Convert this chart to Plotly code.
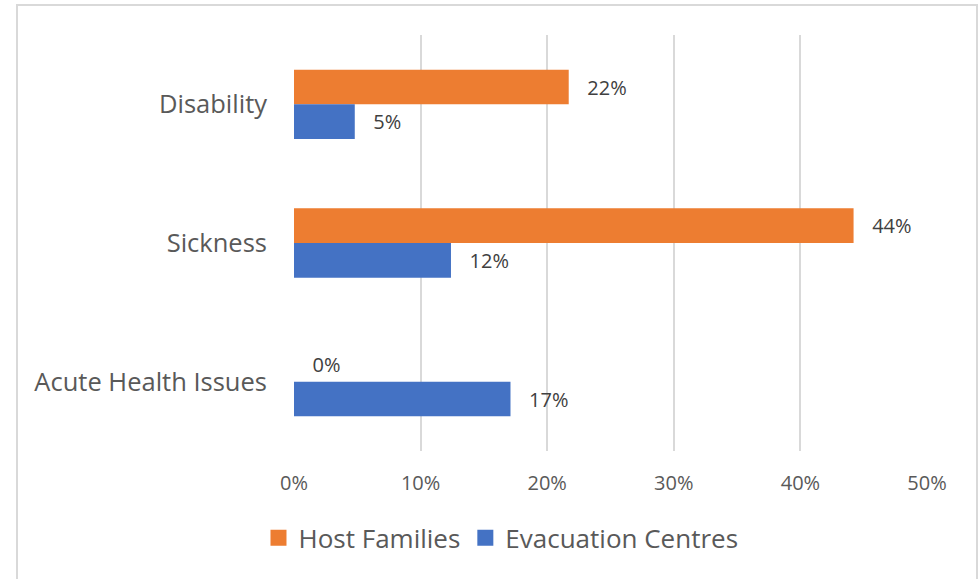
import plotly.graph_objects as go

# Health issues reported, by type of shelter
categories = ["Disability", "Sickness", "Acute Health Issues"]
host_families = [0.217, 0.442, 0.0]
evacuation_centres = [0.048, 0.124, 0.171]
tick_values = [0, 0.1, 0.2, 0.3, 0.4, 0.5]
tick_labels = ["0%", "10%", "20%", "30%", "40%", "50%"]

ORANGE = "#ED7D31"
BLUE = "#4472C4"
TEXT = "#595959"
LABEL = "#404040"
GRID = "#D9D9D9"
FONT = "Open Sans"
PAD = "\u00a0\u00a0\u00a0"  # gap between bar end and its value label

fig = go.Figure()
for name, values, color in [("Host Families", host_families, ORANGE),
                            ("Evacuation Centres", evacuation_centres, BLUE)]:
    fig.add_trace(go.Bar(
        name=name, y=categories, x=values, orientation="h",
        marker=dict(color=color, line=dict(width=0)),
        texttemplate=PAD + "%{x:.0%}", textposition="outside",
        textfont=dict(family=FONT, size=20, color=LABEL), cliponaxis=False,
        showlegend=False,
    ))

# larger square swatches for the legend
for name, color in [("Host Families", ORANGE), ("Evacuation Centres", BLUE)]:
    fig.add_trace(go.Scatter(
        name=name, x=[None], y=[None], mode="markers",
        marker=dict(symbol="square", size=17, color=color),
        showlegend=True, hoverinfo="skip",
    ))

fig.update_layout(
    width=980, height=579,
    margin=dict(l=294, r=53, t=35, b=128),
    paper_bgcolor="white", plot_bgcolor="white",
    barmode="group", bargap=0.5, bargroupgap=0,
    font=dict(family=FONT, color=TEXT),
    xaxis=dict(
        range=[0, 0.5], tickvals=tick_values, ticktext=tick_labels,
        showgrid=True, gridcolor=GRID, gridwidth=2,
        zeroline=False, showline=False, ticks="",
        tickfont=dict(family=FONT, size=20, color=TEXT),
        ticklabelstandoff=18,
    ),
    yaxis=dict(
        autorange="reversed", showgrid=False, zeroline=False,
        showline=False, ticks="",
        tickfont=dict(family=FONT, size=25.5, color=TEXT),
        ticklabelstandoff=26,
    ),
    legend=dict(
        orientation="h", x=0.327, xanchor="center", y=-0.209, yanchor="middle",
        font=dict(family=FONT, size=26, color=TEXT),
        itemwidth=30, tracegroupgap=0,
    ),
    shapes=[dict(
        type="rect", xref="paper", yref="paper",
        x0=-0.4376, x1=1.079, y0=-0.4, y1=1.072,
        line=dict(color=GRID, width=2), layer="below",
    )],
)

fig.write_html("out.html")
